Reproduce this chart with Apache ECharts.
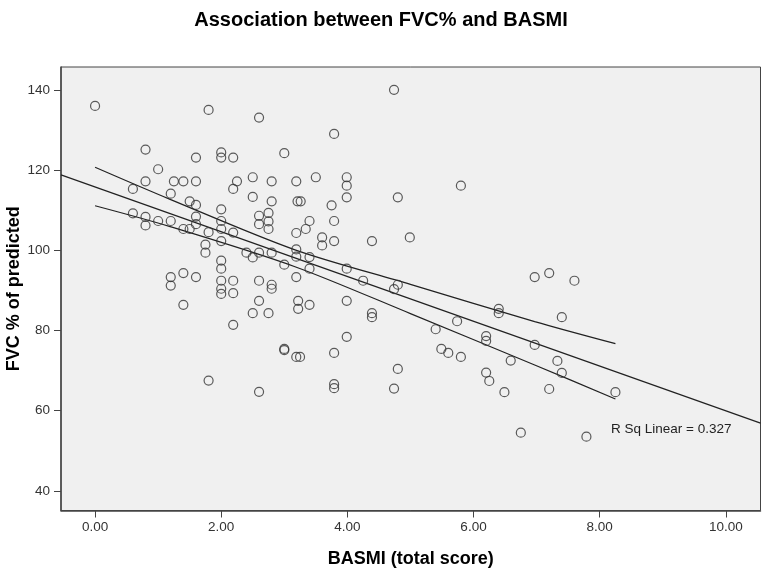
<!DOCTYPE html>
<html lang="en">
<head>
    <meta charset="UTF-8">
    <title>Association between FVC% and BASMI</title>
    <script src="https://cdn.jsdelivr.net/npm/echarts@6.0.0/dist/echarts.min.js"></script>
    <style>
        body { margin: 0; background: #fff; }
    </style>
</head>
<body>
    <div id="main" style="width: 762px; height: 571px;"></div>

    <script type="text/javascript">
        // BASMI (total score) and FVC % of predicted
        const basmi = [
            0.00, 0.60, 0.60, 0.80, 0.80, 0.80, 0.80, 1.00, 1.00,
            1.20, 1.20, 1.20, 1.20, 1.25, 1.40, 1.40, 1.40, 1.40, 1.50, 1.50,
            1.60, 1.60, 1.60, 1.60, 1.60, 1.60, 1.75, 1.75, 1.80, 1.80, 1.80,
            2.00, 2.00, 2.00, 2.00, 2.00, 2.00, 2.00, 2.00, 2.00, 2.00, 2.00,
            2.19, 2.19, 2.25, 2.19, 2.19, 2.19, 2.19,
            2.40, 2.50, 2.50, 2.50, 2.50, 2.60, 2.60, 2.60, 2.60, 2.60, 2.60, 2.60,
            2.75, 2.75, 2.75, 2.75, 2.80, 2.80, 2.80, 2.80, 2.80,
            3.00, 3.00, 3.00, 3.00,
            3.19, 3.21, 3.26, 3.19, 3.19, 3.19, 3.19, 3.22, 3.22, 3.19, 3.25,
            3.34, 3.40, 3.40, 3.40, 3.40,
            3.50, 3.60, 3.60, 3.75, 3.79, 3.79, 3.79, 3.79, 3.79, 3.79,
            3.99, 3.99, 3.99, 3.99, 3.99, 3.99,
            4.25, 4.39, 4.39, 4.39,
            4.74, 4.80, 4.80, 4.74, 4.80, 4.74, 4.99,
            5.40, 5.49, 5.60, 5.74, 5.80, 5.80,
            6.20, 6.20, 6.20, 6.25, 6.40, 6.40, 6.49, 6.59, 6.75, 6.97, 6.97,
            7.20, 7.20, 7.33, 7.40, 7.40, 7.60, 7.79, 8.25
        ];
        const fvc = [
            136.0, 115.3, 109.2, 125.1, 117.2, 108.3, 106.2, 120.2, 107.3,
            114.1, 107.3, 93.3, 91.2, 117.2, 117.2, 105.3, 94.3, 86.4, 112.2, 105.3,
            123.1, 117.2, 111.3, 108.4, 106.5, 93.3, 101.4, 99.4, 135.0, 104.5, 67.5,
            124.4, 123.1, 110.2, 107.3, 105.3, 102.3, 97.4, 95.4, 92.4, 90.4, 89.1,
            123.1, 115.3, 117.2, 104.4, 92.4, 89.3, 81.4,
            99.4, 118.2, 113.3, 98.2, 84.3, 133.1, 108.6, 106.5, 99.4, 92.4, 87.4, 64.7,
            109.3, 107.2, 105.3, 84.3, 117.2, 112.2, 99.4, 91.4, 90.4,
            124.2, 96.4, 75.4, 75.1,
            117.2, 112.2, 112.2, 104.3, 100.2, 98.4, 93.3, 87.4, 85.4, 73.4, 73.4,
            105.3, 107.3, 98.3, 95.4, 86.4,
            118.2, 103.2, 101.2, 111.2, 129.0, 107.3, 102.3, 74.4, 66.6, 65.6,
            118.2, 116.1, 113.2, 95.4, 87.4, 78.4,
            92.4, 102.3, 84.3, 83.3,
            140.0, 113.2, 91.4, 90.3, 70.4, 65.5, 103.2,
            80.3, 75.4, 74.4, 82.3, 116.1, 73.4,
            78.6, 77.4, 69.5, 67.4, 85.4, 84.3, 64.6, 72.5, 54.5, 93.3, 76.4,
            94.3, 65.4, 72.4, 83.3, 69.4, 92.4, 53.5, 64.6
        ];

        // linear fit line (spans the whole axis)
        const fitX = [-0.54, 10.55];
        const fitY = [118.8, 56.9];

        // 95% confidence band for the mean, read at a few points
        const bandX = [0.00, 1.19, 3.17, 5.00, 6.97, 8.25];
        const bandUpper = [120.7, 112.7, 100.1, 91.5, 82.2, 76.7];
        const bandLower = [111.1, 105.9, 95.9, 84.2, 71.4, 62.9];

        const xTicks = [0, 2, 4, 6, 8, 10];
        const yTicks = [40, 60, 80, 100, 120, 140];

        const font = 'Liberation Sans, Arial, sans-serif';
        const frameColor = '#444';

        let myChart = echarts.init(document.getElementById('main'));

        let options = {
            animation: false,
            backgroundColor: '#ffffff',
            title: {
                text: 'Association between FVC% and BASMI',
                left: 'center',
                top: 5,
                textStyle: { fontFamily: font, fontSize: 20, fontWeight: 'bold', color: '#000' }
            },
            grid: {
                left: 61, right: 1.5, top: 67, bottom: 60.5,
                show: true,
                backgroundColor: '#f0f0f0',
                borderColor: frameColor,
                borderWidth: 1,
                containLabel: false,
                outerBoundsMode: 'none'
            },
            xAxis: {
                type: 'value',
                min: -0.54,
                max: 10.55,
                name: 'BASMI (total score)',
                nameLocation: 'middle',
                nameGap: 40,
                nameMoveOverlap: false,
                nameTextStyle: { fontFamily: font, fontSize: 18, fontWeight: 'bold', color: '#000' },
                axisLine: { show: true, onZero: false, lineStyle: { color: frameColor, width: 1.5 } },
                axisTick: { show: true, length: 7, customValues: xTicks, lineStyle: { color: frameColor } },
                axisLabel: {
                    margin: 10,
                    customValues: xTicks,
                    fontFamily: font, fontSize: 13.5, color: '#333',
                    formatter: v => v.toFixed(2)
                },
                splitLine: { show: false }
            },
            yAxis: {
                type: 'value',
                min: 35.1,
                max: 145.7,
                name: 'FVC % of predicted',
                nameLocation: 'middle',
                nameGap: 38,
                nameMoveOverlap: false,
                nameTextStyle: { fontFamily: font, fontSize: 18, fontWeight: 'bold', color: '#000' },
                axisLine: { show: true, onZero: false, lineStyle: { color: frameColor, width: 1.5 } },
                axisTick: { show: true, length: 7, customValues: yTicks, lineStyle: { color: frameColor } },
                axisLabel: {
                    margin: 11,
                    customValues: yTicks,
                    fontFamily: font, fontSize: 13.5, color: '#333'
                },
                splitLine: { show: false }
            },
            graphic: [{
                type: 'text',
                left: 611,
                top: 422,
                style: { text: 'R Sq Linear = 0.327', font: '13.5px ' + font, fill: '#222' }
            }],
            series: [
                {
                    name: 'FVC',
                    type: 'scatter',
                    symbol: 'circle',
                    symbolSize: 9,
                    data: basmi.map((x, i) => [x, fvc[i]]),
                    itemStyle: { color: 'rgba(0,0,0,0)', borderColor: '#333', borderWidth: 1.2 },
                    z: 3
                },
                {
                    name: 'Fit',
                    type: 'line',
                    showSymbol: false,
                    data: fitX.map((x, i) => [x, fitY[i]]),
                    lineStyle: { color: '#222', width: 1.2 },
                    z: 2
                },
                {
                    name: 'Upper',
                    type: 'line',
                    showSymbol: false,
                    smooth: 0.3,
                    data: bandX.map((x, i) => [x, bandUpper[i]]),
                    lineStyle: { color: '#222', width: 1.2 },
                    z: 2
                },
                {
                    name: 'Lower',
                    type: 'line',
                    showSymbol: false,
                    smooth: 0.3,
                    data: bandX.map((x, i) => [x, bandLower[i]]),
                    lineStyle: { color: '#222', width: 1.2 },
                    z: 2
                }
            ]
        };

        myChart.setOption(options);
    </script>
</body>
</html>
